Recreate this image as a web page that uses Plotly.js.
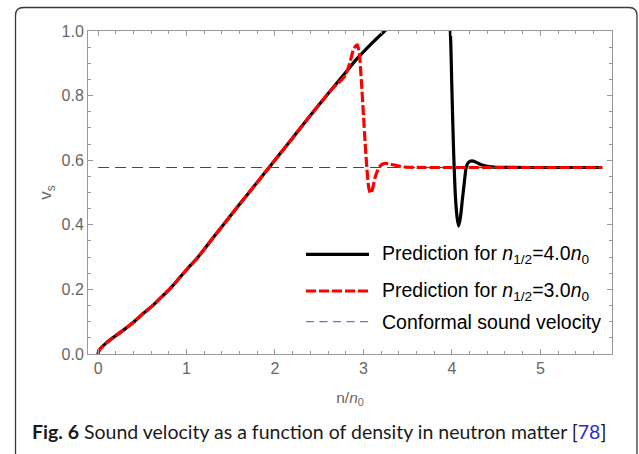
<!DOCTYPE html>
<html>
<head>
<meta charset="utf-8">
<script src="https://cdn.plot.ly/plotly-3.0.1.min.js"></script>
<style>
html,body{margin:0;padding:0;background:#fff;}
#chart{width:639px;height:454px;}
</style>
</head>
<body>
<div id="chart"></div>
<script>
// ---- data ----
const nHalf40 = [0, 0.005, 0.015, 0.035, 0.06, 0.1, 0.166, 0.287, 0.403, 0.513, 0.626, 0.731, 0.833, 0.931, 1.03, 1.127, 1.3, 1.488, 1.7, 1.94, 2.15, 2.39, 2.6, 2.77, 2.92, 3.08, 3.24, 3.4, 3.6, 3.8, 3.92, 3.96, 3.982, 4.0, 4.019, 4.042, 4.06, 4.076, 4.095, 4.118, 4.14, 4.163, 4.19, 4.226, 4.27, 4.33, 4.4, 4.5, 4.7, 5.0, 5.3, 5.7];
const vHalf40 = [0, 0.007, 0.013, 0.019, 0.026, 0.036, 0.050, 0.074, 0.099, 0.126, 0.152, 0.180, 0.208, 0.239, 0.270, 0.299, 0.360, 0.425, 0.498, 0.580, 0.652, 0.735, 0.806, 0.862, 0.912, 0.958, 1.0, 1.04, 1.08, 1.1, 1.1, 1.06, 1.0, 0.82, 0.63, 0.477, 0.42, 0.396, 0.42, 0.477, 0.53, 0.58, 0.594, 0.598, 0.594, 0.586, 0.581, 0.578, 0.5775, 0.5774, 0.5774, 0.5774];

const nHalf30 = [0, 0.005, 0.015, 0.035, 0.06, 0.1, 0.166, 0.287, 0.403, 0.513, 0.626, 0.731, 0.833, 0.931, 1.03, 1.127, 1.3, 1.488, 1.7, 1.94, 2.15, 2.39, 2.6, 2.65, 2.7, 2.75, 2.8, 2.85, 2.89, 2.93, 2.955, 2.976, 3.0, 3.02, 3.04, 3.06, 3.08, 3.1, 3.13, 3.18, 3.24, 3.3, 3.37, 3.45, 3.6, 4.0, 4.5, 5.0, 5.7];
const vHalf30 = [0, 0.007, 0.013, 0.019, 0.026, 0.036, 0.050, 0.074, 0.099, 0.126, 0.152, 0.180, 0.208, 0.239, 0.270, 0.299, 0.360, 0.425, 0.498, 0.580, 0.652, 0.735, 0.806, 0.822, 0.835, 0.848, 0.865, 0.905, 0.945, 0.957, 0.925, 0.848, 0.74, 0.65, 0.57, 0.515, 0.497, 0.508, 0.545, 0.58, 0.59, 0.588, 0.584, 0.579, 0.5775, 0.5774, 0.5774, 0.5774, 0.5774];

const nConformal = [0, 5.7];
const vConformal = [0.57735, 0.57735];

const seriesNames = ["Prediction for <i>n</i><sub>1/2</sub>=4.0<i>n</i><sub>0</sub>",
                     "Prediction for <i>n</i><sub>1/2</sub>=3.0<i>n</i><sub>0</sub>",
                     "Conformal sound velocity"];
const xTickVals = [0, 1, 2, 3, 4, 5];
const yTickVals = [0, 0.2, 0.4, 0.6, 0.8, 1.0];
const caption = "<b>Fig. 6</b> Sound velocity as a function of density in neutron matter [<span style='color:#2b2bd9'>78</span>]";

// ---- layout geometry (pixels) ----
const W = 639, H = 454;
const M = {l: 88, r: 27, t: 31, b: 100};
const PW = W - M.l - M.r, PH = H - M.t - M.b;
const px = x => (x - M.l) / PW;
const py = y => (H - M.b - y) / PH;

const tickGray = '#666666';
const lineGray = '#9a9a9a';
const sans = 'Liberation Sans, Arial, sans-serif';

const traces = [
  {x: nHalf40, y: vHalf40, mode: 'lines', name: seriesNames[0],
   line: {color: '#000000', width: 3.2, shape: 'spline', smoothing: 0.6}, hoverinfo: 'skip'},
  {x: nConformal, y: vConformal, mode: 'lines', name: seriesNames[2],
   line: {color: '#3030ff', width: 1.1, dash: '11px,6px'}, hoverinfo: 'skip'},
  {x: nHalf30, y: vHalf30, mode: 'lines', name: seriesNames[1],
   line: {color: '#ff0000', width: 3.2, dash: '10px,3px', shape: 'spline', smoothing: 0.6}, hoverinfo: 'skip'}
];

// box with rounded corners around the figure
const bx0 = 15.5, bx1 = 637, by0 = 7.5, by1 = 470, r = 8;
const boxPath = `M ${px(bx0)},${py(by1)} L ${px(bx0)},${py(by0 + r)} Q ${px(bx0)},${py(by0)} ${px(bx0 + r)},${py(by0)} ` +
  `L ${px(bx1 - r)},${py(by0)} Q ${px(bx1)},${py(by0)} ${px(bx1)},${py(by0 + r)} L ${px(bx1)},${py(by1)}`;

const legendRows = [
  {y: 254.3, color: '#000000', width: 3.2, dash: 'solid', text: seriesNames[0]},
  {y: 291, color: '#ff0000', width: 3.2, dash: '10px,3px', text: seriesNames[1]},
  {y: 321.7, color: '#6b6bff', width: 1.2, dash: '8px,5.5px', text: seriesNames[2]}
];

const shapes = [
  {type: 'path', xref: 'paper', yref: 'paper', path: boxPath, line: {color: '#3a3a3a', width: 1.3}, layer: 'above'}
];
const annotations = [];
legendRows.forEach(row => {
  shapes.push({type: 'line', xref: 'paper', yref: 'paper', x0: px(306), x1: px(369), y0: py(row.y), y1: py(row.y),
    line: {color: row.color, width: row.width, dash: row.dash}});
  annotations.push({xref: 'paper', yref: 'paper', x: px(380), y: py(row.y), xanchor: 'left', yanchor: 'middle',
    text: row.text, showarrow: false, font: {family: sans, size: 19.5, color: '#000'}});
});
annotations.push({xref: 'paper', yref: 'paper', x: px(30), y: py(431), xanchor: 'left', yanchor: 'middle',
  text: caption, showarrow: false, font: {family: 'Lato, sans-serif', size: 19.5, color: '#1a1a1a'}});

const layout = {
  width: W, height: H,
  margin: M,
  paper_bgcolor: '#ffffff', plot_bgcolor: '#ffffff',
  showlegend: false,
  xaxis: {
    range: [-0.114, 5.81], tickvals: xTickVals, ticktext: xTickVals.map(String),
    showgrid: false, zeroline: false, showline: true, linecolor: lineGray, linewidth: 1, mirror: 'allticks',
    ticks: 'inside', ticklen: 5, tickcolor: lineGray, tickwidth: 1,
    minor: {dtick: 0.2, ticks: 'inside', ticklen: 3, tickcolor: lineGray, tickwidth: 1, showgrid: false},
    tickfont: {family: sans, size: 16, color: tickGray},
    title: {text: 'n/<i>n</i><sub>0</sub>', font: {family: sans, size: 15.5, color: tickGray}, standoff: 15}
  },
  yaxis: {
    range: [0, 1], tickvals: yTickVals, ticktext: yTickVals.map(v => v.toFixed(1)),
    showgrid: false, zeroline: false, showline: true, linecolor: lineGray, linewidth: 1, mirror: 'allticks',
    ticks: 'inside', ticklen: 5, tickcolor: lineGray, tickwidth: 1,
    minor: {dtick: 0.05, ticks: 'inside', ticklen: 3, tickcolor: lineGray, tickwidth: 1, showgrid: false},
    tickfont: {family: sans, size: 16, color: tickGray},
    title: {text: 'v<sub>s</sub>', font: {family: sans, size: 17, color: tickGray}, standoff: 5}
  },
  shapes: shapes,
  annotations: annotations
};

Plotly.newPlot('chart', traces, layout, {staticPlot: true, displayModeBar: false});
</script>
</body>
</html>
